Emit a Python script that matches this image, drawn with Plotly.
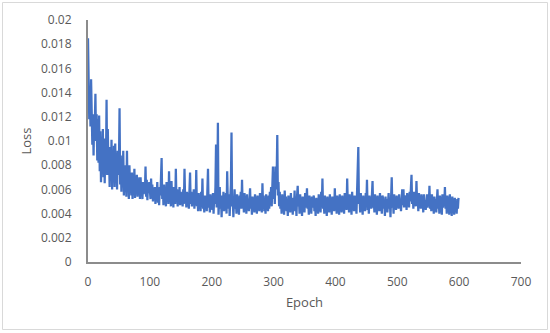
import plotly.graph_objects as go

# Loss values in units of 1e-4 (epochs 0..599)
loss_e4_000_099 = [
    185, 150, 118, 140, 112, 151, 115, 97, 122, 88,
    120, 114, 139, 100, 122, 84, 118, 82, 121, 75,
    108, 66, 92, 80, 110, 70, 102, 65, 96, 78,
    134, 72, 110, 80, 88, 62, 95, 70, 101, 60,
    88, 68, 96, 62, 98, 66, 85, 60, 92, 72,
    80, 127, 64, 88, 58, 82, 66, 92, 55, 78,
    62, 80, 54, 92, 58, 76, 52, 80, 60, 72,
    55, 74, 52, 70, 60, 77, 53, 68, 58, 72,
    54, 66, 60, 70, 52, 70, 58, 64, 52, 66,
    56, 62, 58, 79, 54, 68, 51, 63, 57, 66,
]
loss_e4_100_199 = [
    60, 52, 69, 55, 64, 50, 60, 54, 62, 48,
    58, 52, 66, 49, 60, 47, 62, 55, 70, 86,
    52, 60, 47, 64, 50, 58, 46, 66, 54, 62,
    48, 75, 52, 60, 46, 67, 50, 58, 45, 62,
    54, 48, 77, 50, 60, 46, 56, 52, 62, 47,
    58, 50, 55, 46, 60, 48, 77, 52, 57, 45,
    58, 50, 54, 44, 60, 74, 48, 58, 46, 55,
    50, 60, 44, 56, 48, 76, 46, 53, 42, 57,
    48, 55, 42, 58, 46, 69, 44, 52, 41, 55,
    47, 54, 42, 58, 77, 45, 52, 41, 56, 46,
]
loss_e4_200_299 = [
    54, 43, 57, 40, 55, 48, 62, 97, 45, 58,
    115, 39, 56, 62, 44, 52, 37, 55, 47, 58,
    42, 53, 46, 57, 40, 75, 50, 44, 56, 38,
    52, 64, 107, 46, 52, 37, 55, 60, 44, 52,
    40, 56, 46, 51, 39, 55, 48, 58, 44, 68,
    46, 54, 41, 57, 44, 50, 40, 56, 47, 52,
    42, 55, 61, 44, 50, 39, 54, 46, 52, 41,
    56, 45, 50, 40, 55, 47, 53, 42, 57, 44,
    50, 41, 65, 46, 55, 42, 52, 40, 56, 47,
    51, 42, 55, 44, 58, 48, 62, 46, 66, 79,
]
loss_e4_300_399 = [
    52, 72, 48, 79, 60, 70, 105, 55, 66, 46,
    58, 44, 53, 40, 56, 47, 52, 39, 59, 45,
    54, 42, 50, 38, 55, 46, 52, 41, 57, 44,
    50, 39, 53, 45, 59, 42, 51, 38, 55, 63,
    46, 52, 40, 56, 44, 50, 38, 54, 47, 52,
    41, 57, 45, 50, 61, 44, 52, 39, 55, 46,
    51, 40, 54, 45, 50, 55, 42, 49, 38, 53,
    45, 51, 40, 56, 46, 52, 41, 58, 47, 69,
    44, 52, 40, 55, 46, 50, 38, 54, 45, 51,
    41, 56, 44, 50, 39, 54, 47, 52, 42, 61,
]
loss_e4_400_499 = [
    45, 52, 40, 55, 47, 51, 39, 56, 44, 50,
    41, 55, 46, 52, 40, 57, 45, 51, 43, 69,
    47, 53, 41, 56, 44, 50, 39, 58, 46, 52,
    42, 55, 47, 51, 40, 56, 60, 95, 48, 54,
    41, 57, 45, 52, 39, 55, 46, 50, 42, 57,
    47, 68, 43, 52, 40, 55, 46, 51, 44, 58,
    67, 45, 52, 41, 56, 47, 50, 39, 55, 44,
    51, 42, 57, 46, 50, 40, 55, 53, 44, 50,
    38, 54, 46, 52, 41, 56, 57, 44, 51, 37,
    55, 70, 45, 52, 40, 56, 47, 51, 43, 55,
]
loss_e4_500_599 = [
    46, 53, 44, 56, 48, 52, 42, 57, 60, 47,
    60, 45, 53, 48, 55, 43, 57, 49, 54, 45,
    58, 50, 62, 72, 48, 56, 44, 58, 50, 54,
    46, 67, 49, 55, 42, 57, 47, 52, 44, 56,
    48, 53, 41, 56, 46, 51, 43, 55, 56, 45,
    52, 47, 63, 44, 55, 42, 56, 48, 51, 40,
    54, 46, 52, 41, 57, 60, 44, 52, 40, 55,
    47, 51, 39, 56, 45, 52, 48, 62, 44, 53,
    40, 55, 46, 51, 39, 56, 44, 50, 38, 54,
    45, 51, 39, 53, 42, 50, 40, 52, 44, 53,
]

x_ticks = [0, 100, 200, 300, 400, 500, 600, 700]
y_ticks = [0, 0.002, 0.004, 0.006, 0.008, 0.01, 0.012, 0.014, 0.016, 0.018, 0.02]
y_tick_labels = ["0", "0.002", "0.004", "0.006", "0.008", "0.01", "0.012",
                 "0.014", "0.016", "0.018", "0.02"]

loss_e4 = (loss_e4_000_099 + loss_e4_100_199 + loss_e4_200_299 +
           loss_e4_300_399 + loss_e4_400_499 + loss_e4_500_599)
loss = [v * 1e-4 for v in loss_e4]
epochs = list(range(len(loss)))

W, H = 550, 333
ML, MR, MT, MB = 88, 29, 20, 71

fig = go.Figure()
fig.add_trace(go.Scatter(
    x=epochs, y=loss, mode="lines",
    line=dict(color="#4472C4", width=2.25),
    showlegend=False, hoverinfo="skip",
))

font_color = "#595959"
fig.update_layout(
    width=W, height=H,
    margin=dict(l=ML, r=MR, t=MT, b=MB),
    paper_bgcolor="white", plot_bgcolor="white",
    font=dict(family="Open Sans", size=12, color=font_color),
    xaxis=dict(
        range=[0, 700], tickvals=x_ticks, showgrid=False, zeroline=False,
        showline=True, linecolor="#8c8c8c", linewidth=2,
        ticks="", ticklabelstandoff=8,
        title=dict(text="Epoch", font=dict(size=13, color=font_color), standoff=8),
    ),
    yaxis=dict(
        range=[0, 0.02], tickvals=y_ticks, ticktext=y_tick_labels,
        showgrid=False, zeroline=False,
        showline=True, linecolor="#8c8c8c", linewidth=2,
        ticks="", ticklabelstandoff=12,
        title=dict(text="Loss", font=dict(size=13, color=font_color), standoff=6),
    ),
)

# light outer chart border
pw = W - ML - MR
ph = H - MT - MB
fig.add_shape(
    type="rect", xref="paper", yref="paper",
    x0=(2.5 - ML) / pw, x1=(547.5 - ML) / pw,
    y0=(H - 329.5 - MB) / ph, y1=(H - 2.5 - MB) / ph,
    line=dict(color="#d9d9d9", width=1), layer="below",
)

fig.write_html("out.html", config={"displayModeBar": False},
               post_script="document.body.style.margin='0';")
